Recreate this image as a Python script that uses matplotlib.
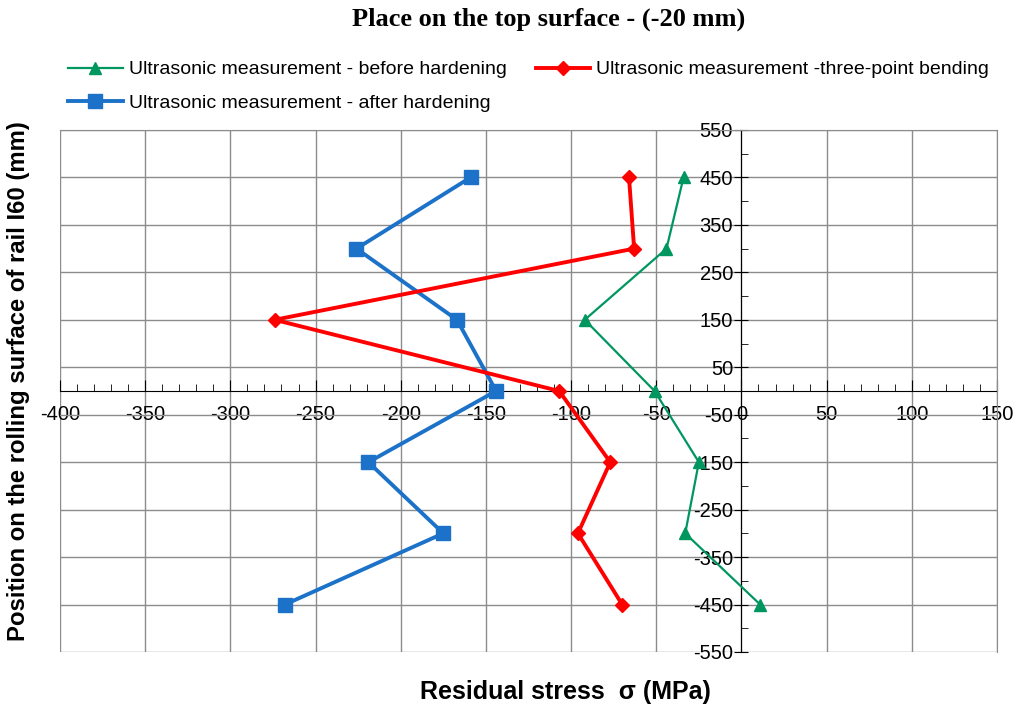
import matplotlib
matplotlib.use("Agg")
import matplotlib.pyplot as plt
import numpy as np
from matplotlib.ticker import MultipleLocator

plt.rcParams['font.family'] = ['Liberation Sans', 'DejaVu Sans']
plt.rcParams['axes.unicode_minus'] = False

# positions along the rail (mm)
position = [450, 300, 150, 0, -150, -300, -450]

# residual stress (MPa)
before_hardening = [-34, -44, -92, -51, -25, -33, 11]
three_point_bending = [-66, -63, -274, -107, -77, -96, -70]
after_hardening = [-159, -226, -167, -144, -219, -175, -268]

x_ticks = np.arange(-400, 151, 50)
y_ticks = np.arange(-550, 551, 100)

fig = plt.figure(figsize=(10.19, 7.08), dpi=100)
ax = fig.add_axes([0.0589, 0.0791, 0.9195, 0.7373])

green = '#00965f'
red = '#ff0000'
blue = '#1b72c8'

l1, = ax.plot(before_hardening, position, color=green, lw=1.6, marker='^', ms=9,
              label='Ultrasonic measurement - before hardening', zorder=3)
l3, = ax.plot(after_hardening, position, color=blue, lw=2.8, marker='s', ms=10,
              label='Ultrasonic measurement - after hardening', zorder=3)
l2, = ax.plot(three_point_bending, position, color=red, lw=2.8, marker='D', ms=7,
              label='Ultrasonic measurement -three-point bending', zorder=4)

ax.set_xlim(-400, 150)
ax.set_ylim(-550, 550)

ax.spines['left'].set_position(('data', 0))
ax.spines['bottom'].set_position(('data', 0))
ax.spines['left'].set_color('black')
ax.spines['bottom'].set_color('black')
ax.spines['left'].set_zorder(2)
ax.spines['bottom'].set_zorder(2)
ax.spines['right'].set_color('#8c8c8c')
ax.spines['top'].set_color('#8c8c8c')

ax.set_xticks(x_ticks)
ax.set_yticks(y_ticks)
ax.xaxis.set_minor_locator(MultipleLocator(10))
ax.yaxis.set_minor_locator(MultipleLocator(50))
ax.tick_params(axis='x', which='major', direction='in', length=8, labelsize=14.5, pad=10)
ax.tick_params(axis='x', which='minor', direction='in', length=5)
ax.tick_params(axis='y', which='major', direction='inout', length=10, labelsize=14.5, pad=1)
ax.tick_params(axis='y', which='minor', direction='in', length=5)

ax.grid(True, which='major', color='#8c8c8c', lw=1.0, zorder=0)
ax.set_axisbelow(True)

fig.text(0.538, 0.973, 'Place on the top surface - (-20 mm)', ha='center', va='center',
         fontsize=19, fontweight='bold', family='Liberation Serif')
fig.text(0.555, 0.022, 'Residual stress  σ (MPa)', ha='center', va='center',
         fontsize=18, fontweight='bold')
fig.text(0.018, 0.462, 'Position on the rolling surface of rail I60 (mm)', ha='center',
         va='center', rotation=90, fontsize=17.2, fontweight='bold')

fig.legend(handles=[l1, l3, l2], loc='upper left', bbox_to_anchor=(0.067, 0.914),
           ncol=2, frameon=False, fontsize=14, handlelength=2.8, handletextpad=0.3,
           columnspacing=1.5, labelspacing=0.8, borderaxespad=0, borderpad=0)

fig.savefig('out.png', dpi=100)
